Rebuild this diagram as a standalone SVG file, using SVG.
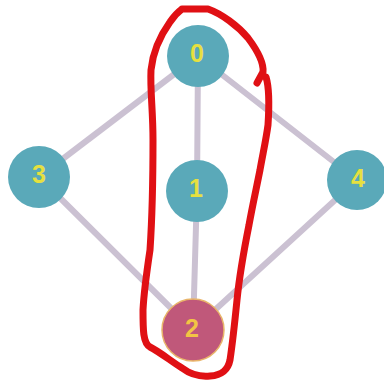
<svg xmlns="http://www.w3.org/2000/svg" width="384" height="384" viewBox="0 0 384 384">
<style>
.edge{stroke:#cbc1d2;stroke-width:6;fill:none;stroke-linecap:round}
.node{fill:#5aa9b9}
.lbl{font-family:"Liberation Sans",Arial,sans-serif;font-weight:bold;font-size:25px;fill:#e6e040;text-anchor:middle;dominant-baseline:central}
.sel{fill:#c0587a;stroke:#e9b56a;stroke-width:1.5}
.sellbl{fill:#f2c444}
.loop{fill:none;stroke:#e01014;stroke-width:7;stroke-linecap:round;stroke-linejoin:round}
</style>
<rect width="384" height="384" fill="#ffffff"/>
<g id="connectors">
<line class="edge" x1="198" y1="56" x2="197" y2="191"/>
<line class="edge" x1="198" y1="56" x2="39" y2="177"/>
<line class="edge" x1="198" y1="56" x2="357" y2="180"/>
<line class="edge" x1="197" y1="191" x2="193" y2="330"/>
<line class="edge" x1="39" y1="177" x2="193" y2="330"/>
<line class="edge" x1="357" y1="180" x2="193" y2="330"/>
</g>
<g id="node0"><circle class="node" cx="198" cy="56" r="31"/><text class="lbl" x="197" y="53">0</text></g>
<g id="node1"><circle class="node" cx="197" cy="191" r="31"/><text class="lbl" x="196" y="188">1</text></g>
<g id="node2"><circle class="sel" cx="193" cy="330" r="31"/><text class="lbl sellbl" x="192" y="328">2</text></g>
<g id="node3"><circle class="node" cx="39" cy="177" r="31"/><text class="lbl" x="39" y="174">3</text></g>
<g id="node4"><circle class="node" cx="357" cy="180" r="30"/><text class="lbl" x="358" y="178">4</text></g>
<path class="loop" d="M 182,9 L 208,9 C 222,14 238,26 248,38 C 257,50 264,62 263,72 L 257,83 M 266,77 C 270,90 269,110 268,125 C 266,140 263,153 260,170 C 256,190 252,208 249,225 C 245,245 240,270 237,300 C 235,320 233,340 230,360 C 228,370 222,375 210,376 C 200,377 190,374 182,368 C 172,362 160,352 150,347 C 143,343 143,330 143,310 C 144,290 147,270 150,250 C 152,220 153,180 153,140 C 153,110 150,90 151,70 C 153,50 160,36 170,22 C 174,16 178,12 182,9 L 190,9"/>
</svg>
